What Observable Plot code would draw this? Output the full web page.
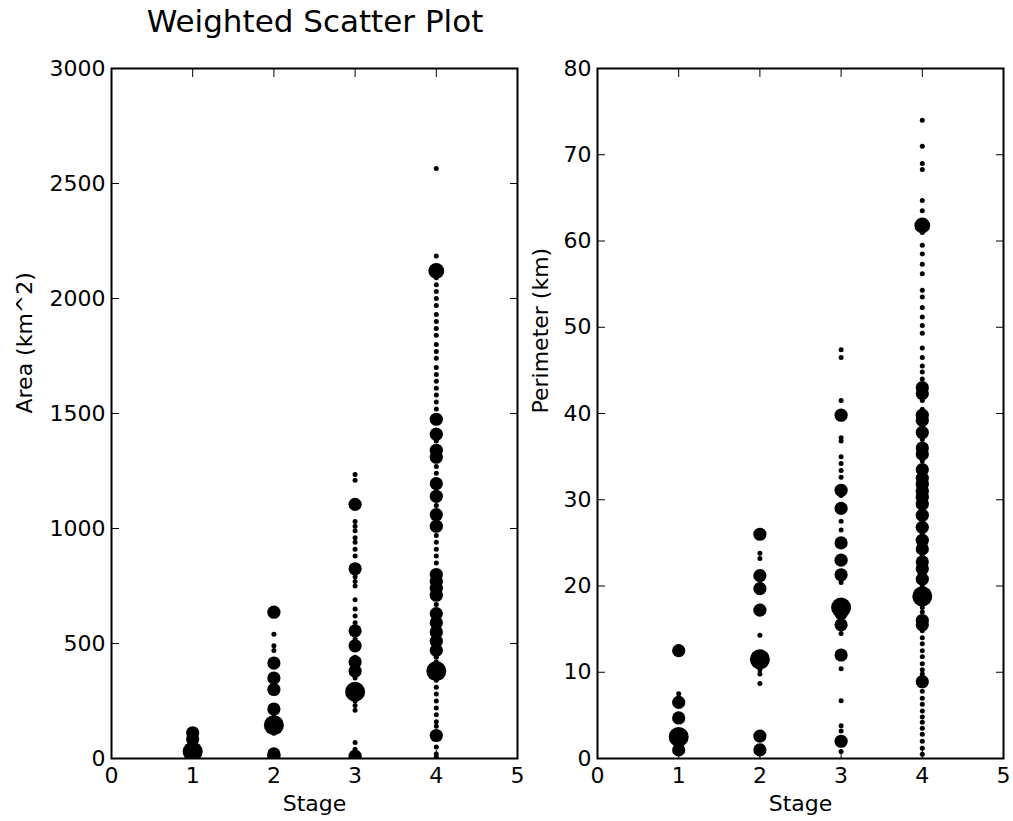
<!DOCTYPE html>
<html>
<head>
<meta charset="utf-8">
<script src="https://cdn.jsdelivr.net/npm/d3@7"></script>
<script src="https://cdn.jsdelivr.net/npm/@observablehq/plot@0.6"></script>
<style>
  html, body { margin: 0; padding: 0; background: white; }
  #wrap { position: relative; width: 1013px; height: 821px; font-family: "DejaVu Sans", sans-serif; }
  #wrap svg { position: absolute; top: 0; background: transparent; max-width: none; }
  #title { position: absolute; left: 0; top: 3px; width: 630px; text-align: center; font-size: 31px; color: black; z-index: 2; }
</style>
</head>
<body>
<div id="wrap"><div id="title">Weighted Scatter Plot</div></div>
<script>
// Tick labels
const xTicks = [0, 1, 2, 3, 4, 5];
const areaTicks = [0, 500, 1000, 1500, 2000, 2500, 3000];
const perimTicks = [0, 10, 20, 30, 40, 50, 60, 70, 80];
const stages = [1, 2, 3, 4];

// Area (km^2): [value, weight] per stage
const areaStage1 = [[112,7],[85,7],[55,4],[30,16],[8,7]];
const areaStage2 = [[636,7],[540,1],[490,1],[470,1],[415,7],[350,7],[300,7],[215,7],[180,1],[145,16],[110,1],[20,7],[10,7]];
const areaStage3 = [[1235,1],[1210,1],[1105,7],[1030,1],[1010,1],[990,1],[960,1],[940,1],[910,1],[880,1],[825,7],[790,1],[770,1],[750,1],[690,1],[650,1],[620,1],[590,1],[555,7],[520,1],[490,7],[440,1],[420,7],[380,7],[350,1],[290,16],[250,1],[230,1],[210,1],[70,1],[40,1],[10,7]];
const areaStage4 = [[2565,1],[2185,1],[2120,10],[2090,1],[2060,1],[2030,1],[2000,1],[1970,1],[1930,1],[1900,1],[1870,1],[1840,1],[1800,1],[1770,1],[1740,1],[1700,1],[1670,1],[1640,1],[1610,1],[1580,1],[1550,1],[1520,1],[1475,7],[1410,7],[1380,1],[1340,7],[1310,7],[1270,1],[1240,1],[1195,7],[1140,7],[1100,1],[1060,7],[1010,7],[970,1],[940,1],[910,1],[880,1],[850,1],[800,7],[770,7],[740,7],[710,7],[670,1],[630,7],[590,7],[550,7],[510,7],[470,7],[440,1],[420,1],[380,16],[340,1],[310,1],[280,1],[250,1],[220,1],[190,1],[160,1],[140,1],[100,7],[50,1],[20,1],[5,1]];

// Perimeter (km): [value, weight] per stage
const perimStage1 = [[12.5,7],[7.5,1],[7,1],[6.5,7],[4.7,7],[2.5,16],[1,7]];
const perimStage2 = [[26,7],[23.8,1],[23.2,1],[21.2,7],[19.7,7],[17.2,7],[14.3,1],[11.5,16],[10.3,1],[9.8,1],[8.7,1],[2.6,7],[1,7]];
const perimStage3 = [[47.4,1],[46.5,1],[41.5,1],[39.8,7],[37.2,1],[36.8,1],[35,1],[34.2,1],[33.4,1],[32.6,1],[31.1,7],[30.5,1],[29,7],[27.5,1],[26.5,1],[25,7],[23,7],[21.3,7],[20.4,1],[17.5,16],[16.8,7],[15.5,7],[14.5,1],[12,7],[10.4,1],[6.7,1],[3.8,1],[3.2,1],[2,7],[0.8,1]];
const perimStage4 = [[74,1],[71,1],[69,1],[68.3,1],[64.7,1],[63.5,1],[61.8,10],[61,1],[59.5,1],[58.5,1],[57.3,1],[56.2,1],[54.3,1],[53.5,1],[52.3,1],[51.2,1],[50.2,1],[49.3,1],[47.6,1],[46.5,1],[45.5,1],[44.8,1],[44,1],[43,7],[42.3,7],[41.5,1],[40.5,1],[39.8,7],[39.2,7],[38.5,1],[37.8,7],[37,1],[36,7],[35.3,7],[34.5,1],[33.5,7],[32.5,7],[31.8,7],[31,7],[30.3,7],[29.5,7],[28.8,1],[28.2,7],[27.5,1],[26.8,7],[26,1],[25.3,7],[24.3,7],[23.5,1],[22.8,7],[22,7],[21.3,1],[20.8,7],[20,1],[18.8,16],[17.5,1],[17,1],[16,7],[15.5,7],[14.8,1],[14,1],[13.3,1],[12.5,1],[11.8,1],[11,1],[10.3,1],[9.8,1],[8.9,7],[7.8,1],[7,1],[6.3,1],[5.5,1],[4.8,1],[4.2,1],[3.5,1],[2.8,1],[2,1],[1.2,1],[0.5,1]];

function rows(groups) {
  const out = [];
  groups.forEach((g, i) => g.forEach(([v, w]) => out.push({stage: stages[i], value: v, weight: w})));
  return out;
}
const areaData = rows([areaStage1, areaStage2, areaStage3, areaStage4]);
const perimData = rows([perimStage1, perimStage2, perimStage3, perimStage4]);

function panel({data, yTicks, yMax, yLabel, width, marginLeft, labelDx}) {
  return Plot.plot({
    width, height: 821,
    marginLeft, marginRight: 10, marginTop: 68, marginBottom: 63,
    style: {fontFamily: "DejaVu Sans, sans-serif", fontSize: "22px", background: "transparent", color: "black"},
    x: {domain: [0, 5]},
    y: {domain: [0, yMax]},
    r: {type: "sqrt", domain: [0, 16], range: [0, 10]},
    marks: [
      Plot.dot(data, {x: "stage", y: "value", r: "weight", fill: "black", stroke: "none", clip: true}),
      Plot.frame({stroke: "black", strokeWidth: 2}),
      Plot.axisX({ticks: xTicks, tickSize: 0, tickPadding: 9, label: null, fill: "black", tickFormat: d => String(d)}),
      Plot.axisX({ticks: xTicks, tickSize: -8, tickFormat: () => "", label: null, stroke: "black"}),
      Plot.axisX({anchor: "top", ticks: xTicks, tickSize: -8, tickFormat: () => "", label: null, stroke: "black"}),
      Plot.axisY({ticks: yTicks, tickSize: 0, tickPadding: 6, label: null, fill: "black", tickFormat: d => String(d)}),
      Plot.axisY({ticks: yTicks, tickSize: -8, tickFormat: () => "", label: null, stroke: "black"}),
      Plot.axisY({anchor: "right", ticks: yTicks, tickSize: -8, tickFormat: () => "", label: null, stroke: "black"}),
      Plot.text(["Stage"], {text: d => d, frameAnchor: "bottom", dy: 52, fontSize: 22, fill: "black"}),
      Plot.text([yLabel], {text: d => d, frameAnchor: "left", dx: labelDx, rotate: -90, fontSize: 22, fill: "black"})
    ]
  });
}

const wrap = document.getElementById("wrap");
const left = panel({data: areaData, yTicks: areaTicks, yMax: 3000, yLabel: "Area (km^2)", width: 527, marginLeft: 111, labelDx: -87});
left.style.left = "0px";
const right = panel({data: perimData, yTicks: perimTicks, yMax: 80, yLabel: "Perimeter (km)", width: 486, marginLeft: 70, labelDx: -57});
right.style.left = "527px";
wrap.insertBefore(left, wrap.firstChild);
wrap.insertBefore(right, wrap.firstChild);
</script>
</body>
</html>
